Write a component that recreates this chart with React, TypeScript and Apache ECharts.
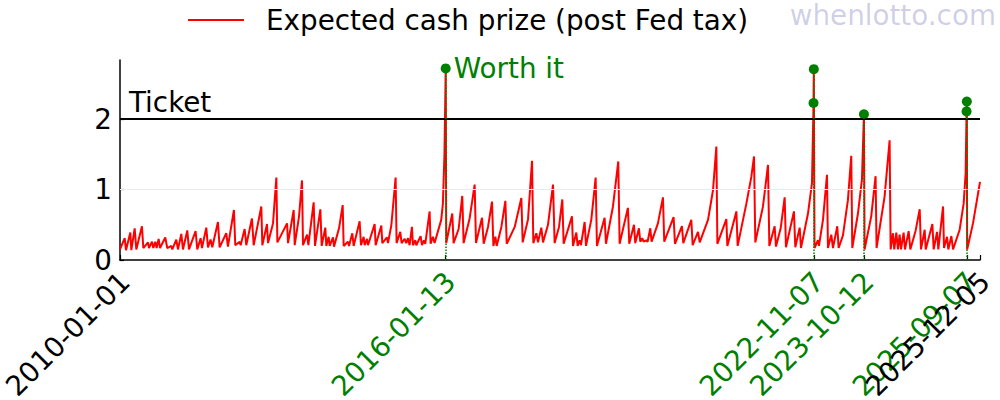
import React, { useEffect, useRef } from "react";
import * as echarts from "echarts";

// Draw dates as decimal years, expected cash prize per $ ticket
const cashYears = [
  2010.000, 2010.087, 2010.111, 2010.191, 2010.210, 2010.272, 2010.302, 2010.407, 2010.432, 2010.519,
  2010.537, 2010.593, 2010.617, 2010.654, 2010.679, 2010.716, 2010.741, 2010.839, 2010.876, 2010.951,
  2010.969, 2011.043, 2011.074, 2011.136, 2011.167, 2011.247, 2011.278, 2011.401, 2011.432, 2011.494,
  2011.519, 2011.599, 2011.630, 2011.679, 2011.710, 2011.815, 2011.846, 2011.969, 2012.000, 2012.111,
  2012.136, 2012.216, 2012.235, 2012.309, 2012.339, 2012.444, 2012.476, 2012.617, 2012.636,
  2012.722, 2012.741, 2012.833, 2012.895, 2012.914, 2013.093, 2013.111, 2013.216, 2013.235, 2013.315,
  2013.370, 2013.389, 2013.463, 2013.488, 2013.586, 2013.611, 2013.710, 2013.735, 2013.802, 2013.821,
  2013.864, 2013.883, 2013.944, 2013.963, 2014.056, 2014.124, 2014.142, 2014.222, 2014.241, 2014.302,
  2014.327, 2014.438, 2014.463, 2014.512, 2014.531, 2014.574, 2014.593, 2014.716, 2014.735, 2014.840,
  2014.858, 2014.944, 2014.963, 2015.025, 2015.105, 2015.123, 2015.191, 2015.216, 2015.272, 2015.302,
  2015.333, 2015.364, 2015.407, 2015.426, 2015.469, 2015.488, 2015.568, 2015.593, 2015.630, 2015.654,
  2015.735, 2015.753, 2015.796, 2015.827, 2015.950, 2015.981, 2016.010, 2016.033, 2016.043, 2016.154,
  2016.179, 2016.272, 2016.339, 2016.364, 2016.475, 2016.568, 2016.593, 2016.704, 2016.735, 2016.815,
  2016.889, 2016.914, 2016.951, 2016.975, 2017.062, 2017.136, 2017.161, 2017.309, 2017.432, 2017.457,
  2017.556, 2017.630, 2017.654, 2017.710, 2017.741, 2017.802, 2017.833, 2017.926,
  2018.019, 2018.049, 2018.130, 2018.191, 2018.216, 2018.370, 2018.389, 2018.451, 2018.475, 2018.512,
  2018.537, 2018.605, 2018.630, 2018.728, 2018.809, 2018.833, 2018.975, 2019.000, 2019.130, 2019.228,
  2019.253, 2019.407, 2019.432, 2019.519, 2019.543, 2019.611, 2019.636, 2019.673, 2019.698, 2019.747,
  2019.772, 2019.821, 2019.846, 2019.963, 2020.056, 2020.080, 2020.253, 2020.278, 2020.407, 2020.432,
  2020.580, 2020.605, 2020.704, 2020.735,
  2020.889, 2020.981, 2021.043, 2021.062, 2021.228, 2021.247, 2021.414, 2021.438, 2021.599, 2021.691,
  2021.741, 2021.765, 2021.907, 2022.000, 2022.025, 2022.123, 2022.148, 2022.235, 2022.309, 2022.333,
  2022.481, 2022.506, 2022.587, 2022.611, 2022.741, 2022.815, 2022.844, 2022.849, 2022.862, 2022.926,
  2022.944, 2023.019, 2023.093, 2023.111, 2023.173, 2023.204, 2023.284, 2023.309, 2023.389,
  2023.481, 2023.543, 2023.562, 2023.667, 2023.741, 2023.778, 2023.790, 2023.913, 2023.994, 2024.012,
  2024.160, 2024.253, 2024.272, 2024.315, 2024.339, 2024.377, 2024.407, 2024.438, 2024.463, 2024.512,
  2024.537, 2024.605, 2024.636, 2024.735, 2024.809, 2024.833, 2024.901, 2024.920, 2025.043, 2025.068,
  2025.130, 2025.154, 2025.241, 2025.259, 2025.315, 2025.339, 2025.395, 2025.426, 2025.549, 2025.623,
  2025.660, 2025.677, 2025.682, 2025.688, 2025.796, 2025.926,
];
const cashValues = [
  0.15, 0.31, 0.14, 0.39, 0.14, 0.45, 0.15, 0.48, 0.17, 0.25,
  0.17, 0.26, 0.17, 0.26, 0.17, 0.30, 0.17, 0.32, 0.17, 0.20,
  0.15, 0.29, 0.15, 0.37, 0.15, 0.42, 0.15, 0.41, 0.15, 0.31,
  0.17, 0.46, 0.18, 0.29, 0.18, 0.54, 0.18, 0.38, 0.19, 0.71,
  0.21, 0.26, 0.21, 0.44, 0.21, 0.59, 0.21, 0.76, 0.21,
  0.51, 0.24, 0.52, 1.17, 0.25, 0.52, 0.24, 0.71, 0.21, 0.62,
  1.13, 0.21, 0.36, 0.21, 0.82, 0.20, 0.72, 0.20, 0.46, 0.20,
  0.33, 0.20, 0.32, 0.19, 0.45, 0.78, 0.20, 0.26, 0.20, 0.38,
  0.20, 0.55, 0.21, 0.33, 0.21, 0.30, 0.21, 0.51, 0.21, 0.49,
  0.24, 0.32, 0.24, 0.49, 1.17, 0.24, 0.40, 0.24, 0.30, 0.24,
  0.31, 0.21, 0.47, 0.21, 0.28, 0.21, 0.34, 0.21, 0.28, 0.23,
  0.69, 0.23, 0.33, 0.24, 0.57, 0.80, 1.50, 2.72, 0.24, 0.66,
  0.24, 0.44, 0.91, 0.24, 0.59, 1.07, 0.24, 0.60, 0.23, 0.47,
  0.83, 0.20, 0.33, 0.20, 0.47, 0.84, 0.23, 0.47, 0.88, 0.25,
  0.58, 1.41, 0.24, 0.38, 0.25, 0.46, 0.25, 0.50,
  1.07, 0.24, 0.47, 0.86, 0.23, 0.62, 0.20, 0.39, 0.20, 0.28,
  0.21, 0.54, 0.20, 0.57, 1.17, 0.20, 0.60, 0.23, 0.76, 1.40,
  0.23, 0.74, 0.23, 0.50, 0.24, 0.45, 0.26, 0.31, 0.26, 0.28,
  0.26, 0.45, 0.26, 0.52, 0.89, 0.26, 0.61, 0.23, 0.48, 0.24,
  0.57, 0.21, 0.40, 0.25,
  0.57, 0.99, 1.61, 0.23, 0.58, 0.20, 0.69, 0.20, 0.80, 1.18,
  1.47, 0.25, 0.76, 1.35, 0.20, 0.48, 0.19, 0.45, 0.89, 0.18,
  0.69, 0.18, 0.46, 0.17, 0.66, 1.09, 2.23, 2.71, 0.17, 0.28,
  0.20, 0.57, 1.21, 0.17, 0.36, 0.17, 0.48, 0.17, 0.35,
  0.85, 1.48, 0.17, 0.66, 1.14, 2.07, 0.15, 0.62, 1.19, 0.17,
  0.90, 1.70, 0.15, 0.38, 0.15, 0.39, 0.15, 0.36, 0.15, 0.39,
  0.15, 0.41, 0.15, 0.42, 0.72, 0.15, 0.43, 0.15, 0.51, 0.15,
  0.40, 0.15, 0.76, 0.17, 0.33, 0.15, 0.34, 0.15, 0.43, 0.80,
  1.23, 2.11, 2.25, 0.15, 0.52, 1.11,
];

const worthDates = ["2016-01-13", "2022-11-05", "2022-11-07", "2023-10-12", "2025-09-05", "2025-09-07"];
const worthValues = [2.72, 2.23, 2.71, 2.07, 2.11, 2.25];
const vlineDates = ["2016-01-13", "2022-11-07", "2023-10-12", "2025-09-07"];
const vlineValues = [2.72, 2.71, 2.07, 2.25];

const tickDates = ["2010-01-01", "2016-01-13", "2022-11-07", "2023-10-12", "2025-09-07", "2025-12-05"];
const tickIsWorth = [false, true, true, true, true, false];
const yTicks = [0, 1, 2];
const yMax = 2.84;
const ticketPrice = 2;
const gridLines = [1];
const legendLabel = "Expected cash prize (post Fed tax)";
const worthLabel = "Worth it";
const ticketLabel = "Ticket";
const watermark = "whenlotto.com";

const FONT = "DejaVu Sans";
const FS = 27.8;

function yearToMs(y: number): number {
  const Y = Math.floor(y);
  const a = Date.UTC(Y, 0, 1);
  const b = Date.UTC(Y + 1, 0, 1);
  return a + (y - Y) * (b - a);
}
const dateMs = (s: string) => Date.parse(s + "T00:00:00Z");

export default function App() {
  const ref = useRef<HTMLDivElement>(null);
  useEffect(() => {
    if (!ref.current) return;
    const chart = echarts.init(ref.current, undefined, { renderer: "svg" });
    const tickMs = tickDates.map(dateMs);
    const last = tickMs.length - 1;
    const labelFor = (v: number) => {
      let best = 0;
      for (let i = 1; i < tickMs.length; i++) {
        if (Math.abs(tickMs[i] - v) < Math.abs(tickMs[best] - v)) best = i;
      }
      return tickIsWorth[best] ? `{g|${tickDates[best]}}` : `{k|${tickDates[best]}}`;
    };
    const labelBase = {
      rotate: 45,
      margin: 12,
      padding: [14, 0, 0, 0],
      hideOverlap: false,
      fontSize: FS,
      fontFamily: FONT,
      color: "#000",
      formatter: (v: number) => labelFor(v),
      rich: {
        g: { color: "green", fontSize: FS, fontFamily: FONT },
        k: { color: "#000", fontSize: FS, fontFamily: FONT },
      },
    };
    const option: any = {
      animation: false,
      textStyle: { fontFamily: FONT },
      grid: { left: 120, top: 60, width: 860, height: 200, containLabel: false, outerBoundsMode: "none" },
      xAxis: [
        {
          type: "value",
          min: tickMs[0],
          max: tickMs[last],
          axisLine: { show: true, lineStyle: { color: "#000", width: 1.5 } },
          axisTick: { show: true, inside: true, length: 5, customValues: tickMs, lineStyle: { color: "#000", width: 1.2 } },
          axisLabel: { ...labelBase, customValues: tickMs.slice(0, last), showMinLabel: true, showMaxLabel: true },
          splitLine: { show: false },
        },
        {
          type: "value",
          position: "bottom",
          min: tickMs[0],
          max: tickMs[last],
          axisLine: { show: false },
          axisTick: { show: false },
          axisLabel: { ...labelBase, customValues: [tickMs[last]], showMinLabel: true, showMaxLabel: true },
          splitLine: { show: false },
        },
      ],
      yAxis: {
        type: "value",
        min: 0,
        max: yMax,
        interval: 1,
        axisLine: { show: true, lineStyle: { color: "#000", width: 1.5 } },
        axisTick: { show: true, inside: true, length: 4, customValues: yTicks, lineStyle: { color: "#000", width: 1.2 } },
        axisLabel: { customValues: yTicks, fontSize: FS, fontFamily: FONT, color: "#000", margin: 8 },
        splitLine: { show: false },
      },
      series: [
        {
          name: "guides",
          type: "line",
          data: [],
          z: 1,
          silent: true,
          markLine: {
            silent: true,
            symbol: "none",
            animation: false,
            data: [
              ...gridLines.map((g) => ({
                yAxis: g,
                lineStyle: { color: "#ebebeb", width: 1, type: "solid" },
                label: { show: false },
              })),
              {
                yAxis: ticketPrice,
                lineStyle: { color: "#000", width: 2, type: "solid" },
                label: {
                  show: true,
                  position: "insideStartTop",
                  formatter: ticketLabel,
                  color: "#000",
                  fontSize: FS,
                  fontFamily: FONT,
                  distance: [9, 3],
                },
              },
            ],
          },
        },
        {
          name: "vlines",
          type: "line",
          data: [],
          z: 1,
          silent: true,
          markLine: {
            silent: true,
            symbol: "none",
            animation: false,
            label: { show: false },
            lineStyle: { color: "green", width: 1.5, type: "dotted" },
            data: vlineDates.map((d, i) => [
              { coord: [dateMs(d), 0] },
              { coord: [dateMs(d), vlineValues[i]] },
            ]),
          },
        },
        {
          name: legendLabel,
          type: "line",
          z: 2,
          showSymbol: false,
          symbol: "none",
          lineStyle: { color: "red", width: 2 },
          data: cashYears.map((y, i) => [yearToMs(y), cashValues[i]]),
        },
        {
          name: "worth",
          type: "scatter",
          z: 3,
          symbolSize: 10,
          itemStyle: { color: "green", opacity: 1 },
          data: worthDates.map((d, i) =>
            i === 0
              ? {
                  value: [dateMs(d), worthValues[i]],
                  label: {
                    show: true,
                    formatter: worthLabel,
                    position: "right",
                    distance: 3,
                    color: "green",
                    fontSize: FS,
                    fontFamily: FONT,
                  },
                }
              : { value: [dateMs(d), worthValues[i]] }
          ),
        },
      ],
      graphic: [
        {
          type: "line",
          shape: { x1: 188, y1: 20, x2: 244, y2: 20 },
          style: { stroke: "red", lineWidth: 2 },
        },
        {
          type: "text",
          x: 266,
          y: 20,
          style: { text: legendLabel, fontSize: FS, fontFamily: FONT, fill: "#000", verticalAlign: "middle" },
        },
        {
          type: "text",
          x: 996,
          y: 15,
          style: { text: watermark, fontSize: FS, fontFamily: FONT, fill: "rgba(0,0,128,0.2)", align: "right", verticalAlign: "middle" },
        },
      ],
    };
    chart.setOption(option);
    return () => chart.dispose();
  }, []);
  return (
    <div
      ref={ref}
      style={{ position: "fixed", left: 0, top: 0, width: 1000, height: 400, background: "#fff" }}
    />
  );
}
